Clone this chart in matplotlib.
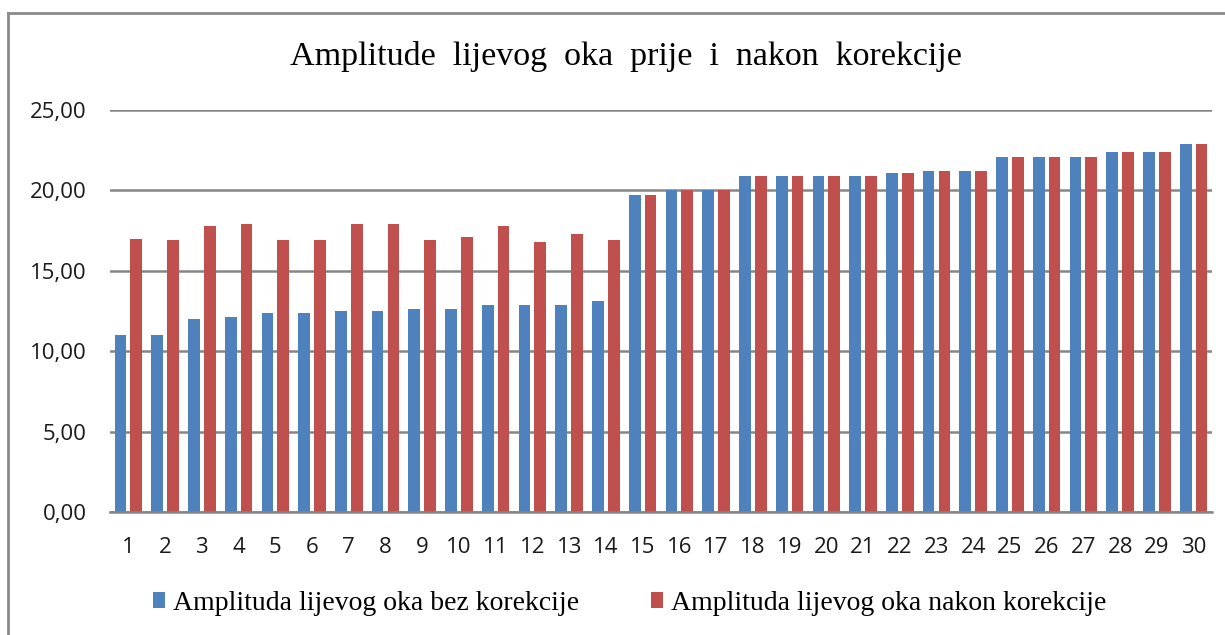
import numpy as np
import matplotlib.pyplot as plt
from matplotlib.patches import Patch
from matplotlib.lines import Line2D

# Podaci
ispitanici = list(range(1, 31))
bez_korekcije = [11.0, 11.0, 12.0, 12.1, 12.4, 12.4, 12.5, 12.5, 12.6, 12.6,
                 12.9, 12.9, 12.9, 13.1, 19.7, 20.0, 20.0, 20.9, 20.9, 20.9,
                 20.9, 21.1, 21.2, 21.2, 22.1, 22.1, 22.1, 22.4, 22.4, 22.9]
nakon_korekcije = [17.0, 16.9, 17.8, 17.9, 16.9, 16.9, 17.9, 17.9, 16.9, 17.1,
                   17.8, 16.8, 17.3, 16.9, 19.7, 20.0, 20.0, 20.9, 20.9, 20.9,
                   20.9, 21.1, 21.2, 21.2, 22.1, 22.1, 22.1, 22.4, 22.4, 22.9]
y_ticks = [0, 5, 10, 15, 20, 25]

PLAVA = '#4F81BD'
CRVENA = '#C0504D'
SIVA = '#868686'

fig = plt.figure(figsize=(12.25, 6.35), dpi=100)
ax = fig.add_axes([110 / 1225, 1 - 512 / 635, (1212 - 110) / 1225, (512 - 110) / 635])

x = np.array(ispitanici)
ax.bar(x - 0.215, bez_korekcije, width=0.32, color=PLAVA, zorder=3)
ax.bar(x + 0.215, nakon_korekcije, width=0.32, color=CRVENA, zorder=3)

ax.set_xlim(0.5, 30.5)
ax.set_ylim(0, 25)
ax.set_yticks(y_ticks)
ax.set_yticklabels(['{:.2f}'.format(v).replace('.', ',') for v in y_ticks])
ax.set_xticks(x)
ax.set_xticklabels([str(i) for i in ispitanici])
ax.yaxis.grid(True, color=SIVA, linewidth=1.8, zorder=0)
ax.set_axisbelow(True)

for s in ['top', 'right', 'left']:
    ax.spines[s].set_visible(False)
ax.spines['bottom'].set_color(SIVA)
ax.spines['bottom'].set_linewidth(1.8)
ax.spines['bottom'].set_zorder(4)

ax.tick_params(axis='both', length=0, labelsize=16, colors='#1a1a1a')
ax.tick_params(axis='y', pad=17)
ax.tick_params(axis='x', pad=18)
for lbl in ax.get_xticklabels() + ax.get_yticklabels():
    lbl.set_family('Open Sans')

# Naslov
fig.text(626 / 1225, 1 - 57 / 635, 'Amplitude  lijevog  oka  prije  i  nakon  korekcije',
         ha='center', va='center', fontsize=24.5, family='Liberation Serif')

# Legenda
rucke = [Patch(facecolor=PLAVA), Patch(facecolor=CRVENA)]
fig.legend(rucke, ['Amplituda lijevog oka bez korekcije', 'Amplituda lijevog oka nakon korekcije'],
           loc='center', bbox_to_anchor=(630 / 1225, 1 - 603 / 635), ncol=2, frameon=False,
           prop={'family': 'Liberation Serif', 'size': 20},
           handlelength=0.42, handleheight=0.5, handletextpad=0.3, columnspacing=2.6)

# Okvir grafikona
fig.add_artist(Line2D([8 / 1225, 8 / 1225], [0, 1 - 13 / 635], transform=fig.transFigure,
                      color='#8a8a8a', linewidth=2))
fig.add_artist(Line2D([8 / 1225, 1], [1 - 13 / 635, 1 - 13 / 635], transform=fig.transFigure,
                      color='#8a8a8a', linewidth=2))

fig.savefig('out.png', dpi=100)
